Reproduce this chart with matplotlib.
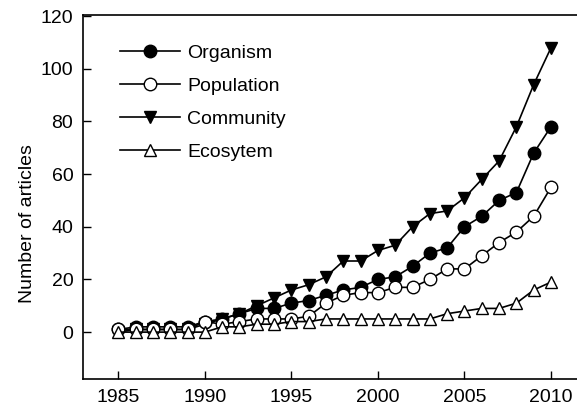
import matplotlib
matplotlib.use("Agg")
import matplotlib.pyplot as plt

years = list(range(1985, 2011))
organism = [1, 2, 2, 2, 2, 4, 5, 7, 9, 9, 11, 12, 14, 16, 17, 20, 21, 25, 30, 32, 40, 44, 50, 53, 68, 78]
population = [1, 1, 1, 1, 1, 4, 3, 4, 5, 5, 5, 6, 11, 14, 15, 15, 17, 17, 20, 24, 24, 29, 34, 38, 44, 55]
community = [0, 1, 1, 1, 1, 3, 5, 7, 10, 13, 16, 18, 21, 27, 27, 31, 33, 40, 45, 46, 51, 58, 65, 78, 94, 108]
ecosystem = [0, 0, 0, 0, 0, 0, 2, 2, 3, 3, 4, 4, 5, 5, 5, 5, 5, 5, 5, 7, 8, 9, 9, 11, 16, 19]
series_labels = ["Organism", "Population", "Community", "Ecosytem"]
xticks = [1985, 1990, 1995, 2000, 2005, 2010]
yticks = [0, 20, 40, 60, 80, 100, 120]

plt.rcParams['font.family'] = ['Liberation Sans', 'DejaVu Sans']
plt.rcParams['font.size'] = 14

W, H = 577, 409
fig = plt.figure(figsize=(W / 100, H / 100), dpi=100)
ax = fig.add_axes([83 / W, (H - 379) / H, 1 - 83 / W, (379 - 15) / H])

lw = 1.2
ms = 9
l1, = ax.plot(years, organism, color='black', lw=lw, marker='o', ms=ms,
              mfc='black', mec='black', zorder=3, label=series_labels[0])
l2, = ax.plot(years, population, color='black', lw=lw, marker='o', ms=ms,
              mfc='white', mec='black', mew=1.0, zorder=4, label=series_labels[1])
l3, = ax.plot(years, community, color='black', lw=lw, marker='v', ms=ms,
              mfc='black', mec='black', zorder=2, label=series_labels[2])
l4, = ax.plot(years, ecosystem, color='black', lw=lw, marker='^', ms=ms,
              mfc='white', mec='black', mew=1.0, zorder=5, label=series_labels[3])

ax.set_xlim(1982.96, 2011.5)
ax.set_ylim(-17.8, 120.4)
ax.set_xticks(xticks)
ax.set_yticks(yticks)
ax.tick_params(direction='in', length=6, width=1, pad=7, labelsize=14)
ax.spines['right'].set_visible(False)
for s in ['left', 'bottom', 'top']:
    ax.spines[s].set_linewidth(1.2)

ax.set_ylabel("Number of articles", fontsize=14)
ax.yaxis.set_label_coords(-0.095, 0.427)

leg = ax.legend(handles=[l1, l2, l3, l4], loc='upper left',
                bbox_to_anchor=((120 - 83) / 494, 1 - (44 - 15) / 364),
                frameon=False, handlelength=3.1, handletextpad=0.35,
                labelspacing=0.8, borderpad=0, borderaxespad=0, fontsize=14)

fig.savefig("out.png", dpi=100)
